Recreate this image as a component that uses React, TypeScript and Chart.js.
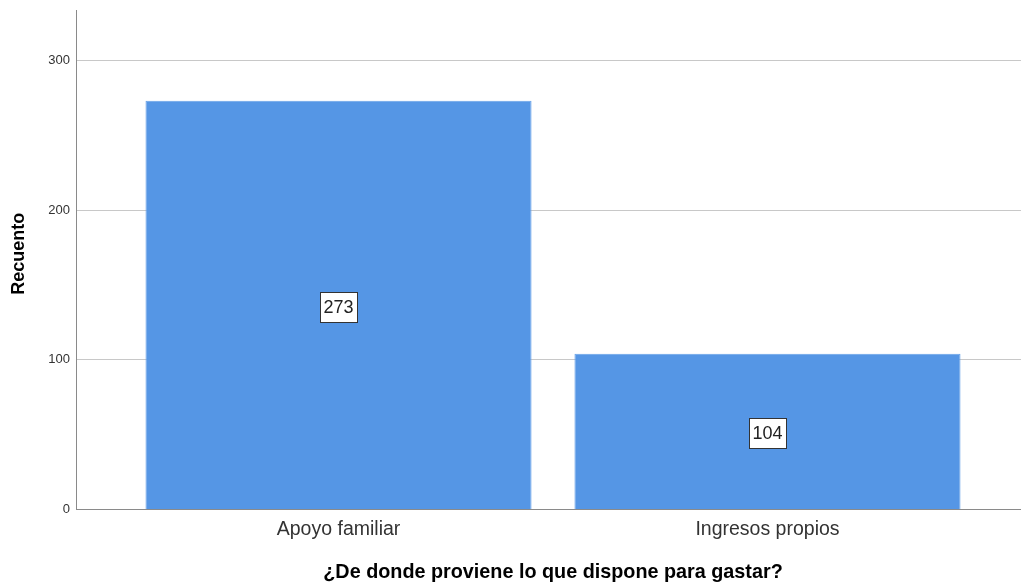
import React, { useEffect, useRef } from "react";
import { Chart, registerables } from "chart.js";

Chart.register(...registerables);

const categories: string[] = ["Apoyo familiar", "Ingresos propios"];
const counts: number[] = [273, 104];
const yTicks: number[] = [0, 100, 200, 300];
const yMax = 333.6;
const xTitle = "¿De donde proviene lo que dispone para gastar?";
const yTitle = "Recuento";

const FONT = '"Liberation Sans", Arial, sans-serif';

const valueLabels = {
  id: "valueLabels",
  afterDatasetsDraw(chart: any) {
    const ctx = chart.ctx;
    const meta = chart.getDatasetMeta(0);
    ctx.save();
    ctx.font = `18px ${FONT}`;
    ctx.textAlign = "center";
    ctx.textBaseline = "middle";
    meta.data.forEach((bar: any, i: number) => {
      const txt = String(counts[i]);
      const cx = bar.x;
      const cy = (bar.y + bar.base) / 2 + 2;
      const w = ctx.measureText(txt).width + 7;
      const h = 30;
      const x0 = Math.round(cx - w / 2) + 0.5;
      const y0 = Math.round(cy - h / 2) + 0.5;
      ctx.fillStyle = "#ffffff";
      ctx.fillRect(x0, y0, Math.round(w), h);
      ctx.strokeStyle = "#333333";
      ctx.lineWidth = 1;
      ctx.strokeRect(x0, y0, Math.round(w), h);
      ctx.fillStyle = "#222222";
      ctx.fillText(txt, cx, cy + 1);
    });
    ctx.restore();
  },
};

const axisTitles = {
  id: "axisTitles",
  afterDraw(chart: any) {
    const ctx = chart.ctx;
    const area = chart.chartArea;
    ctx.save();
    ctx.fillStyle = "#000000";
    ctx.textAlign = "center";
    ctx.textBaseline = "middle";
    ctx.font = `bold 19.8px ${FONT}`;
    ctx.fillText(xTitle, (area.left + area.right) / 2 + 4.5, chart.height - 10);
    ctx.translate(19, (area.top + area.bottom) / 2 - 6);
    ctx.rotate(-Math.PI / 2);
    ctx.font = `bold 18px ${FONT}`;
    ctx.fillText(yTitle, 0, 0);
    ctx.restore();
  },
};

export default function App() {
  const ref = useRef<HTMLCanvasElement | null>(null);
  useEffect(() => {
    document.body.style.margin = "0";
    const canvas = ref.current!;
    const chart = new Chart(canvas, {
      type: "bar",
      data: {
        datasets: [
          {
            data: counts.map((v, i) => ({ x: i, y: v })),
            backgroundColor: "#5596e5",
            borderColor: "#65a0e8",
            borderWidth: 1,
            categoryPercentage: 1,
            barPercentage: 0.9,
          },
        ],
      },
      options: {
        animation: false,
        responsive: false,
        maintainAspectRatio: false,
        layout: { padding: { top: 10, right: 0, left: 0, bottom: 0 } },
        plugins: {
          legend: { display: false },
          tooltip: { enabled: false },
        },
        scales: {
          x: {
            type: "linear",
            offset: false,
            min: -0.612,
            max: 1.591,
            afterBuildTicks: (scale: any) => {
              scale.ticks = categories.map((_, i) => ({ value: i }));
            },
            afterFit: (scale: any) => {
              scale.height = 73.5;
              scale.paddingLeft = 0;
              scale.paddingRight = 0;
            },
            grid: { display: false, drawTicks: false, offset: false },
            border: { display: true, color: "#8a8a8a", width: 1 },
            ticks: {
              autoSkip: false,
              maxRotation: 0,
              padding: 8,
              color: "#333333",
              font: { family: FONT, size: 19.5 },
              callback: (v: any) => categories[Number(v)] ?? "",
            },
            title: { display: false },
          },
          y: {
            type: "linear",
            min: 0,
            max: yMax,
            afterBuildTicks: (scale: any) => {
              scale.ticks = yTicks.map((v) => ({ value: v }));
            },
            afterFit: (scale: any) => {
              scale.width = 76;
              scale.paddingTop = 0;
              scale.paddingBottom = 0;
            },
            grid: { color: "#c8c8c8", lineWidth: 1, drawTicks: false },
            border: { display: true, color: "#8a8a8a", width: 1 },
            ticks: {
              padding: 6,
              color: "#333333",
              font: { family: FONT, size: 13 },
            },
            title: { display: false },
          },
        },
      },
      plugins: [valueLabels, axisTitles],
    } as any);
    return () => chart.destroy();
  }, []);
  return (
    <div style={{ position: "absolute", left: 0, top: 0, width: 1021, height: 583, background: "#fff" }}>
      <canvas ref={ref} width={1021} height={583} style={{ width: 1021, height: 583, display: "block" }} />
    </div>
  );
}
